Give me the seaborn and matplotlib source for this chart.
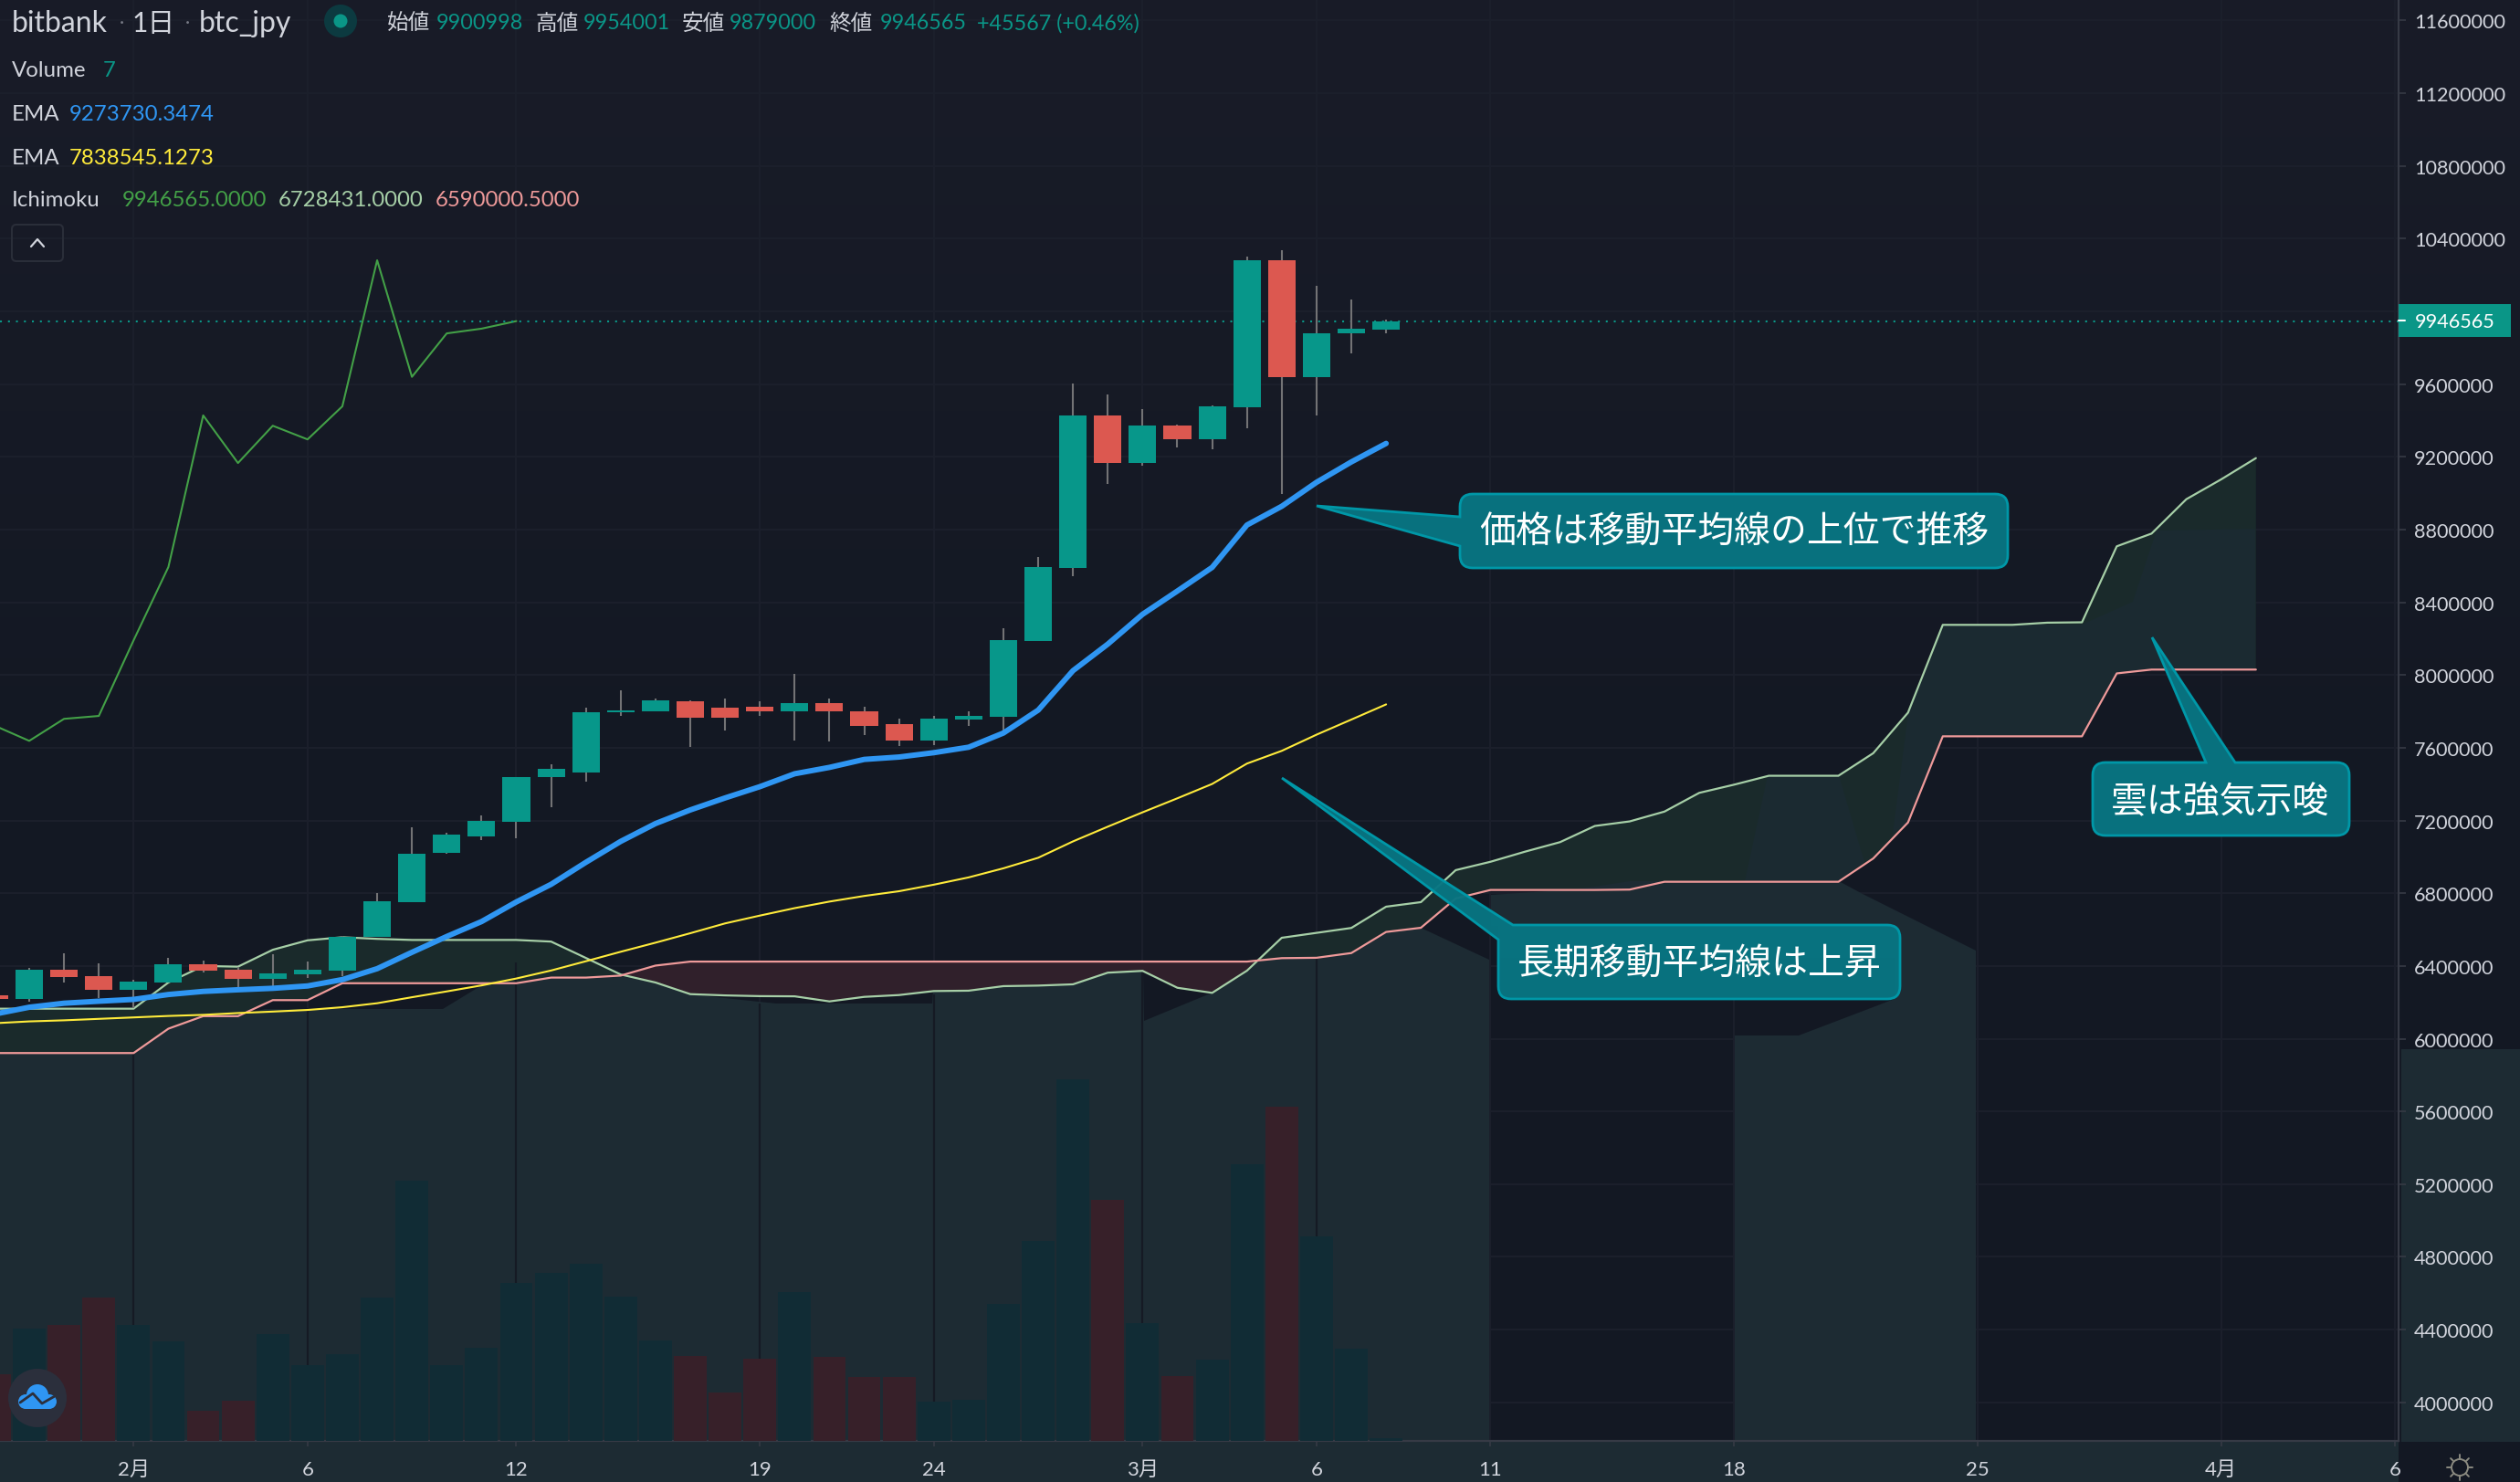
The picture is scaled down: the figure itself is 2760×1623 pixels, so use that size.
import numpy as np
import matplotlib
matplotlib.use('Agg')
import matplotlib.pyplot as plt
import seaborn as sns
from matplotlib.patches import Circle, FancyBboxPatch, PathPatch, Polygon, Rectangle
from matplotlib.path import Path
from matplotlib.transforms import Affine2D

W, H = 2760, 1624

# 日足 (2月1日 = 0)
candle_days = list(range(-4, 37))
opens = [6240000, 6219000, 6378000, 6343000, 6267000, 6307000, 6408000, 6378000, 6328000, 6352000, 6374000,
         6559000, 6749000, 7024000, 7112000, 7191000, 7439000, 7465000, 7793000, 7801000, 7854000, 7819000,
         7828000, 7801000, 7846000, 7801000, 7731000, 7638000, 7755000, 7770000, 8186000, 8588000, 9428000,
         9166000, 9371000, 9296000, 9472000, 10281000, 9640000, 9879000, 9900998]
highs = [6240000, 6387000, 6469000, 6414000, 6325000, 6443000, 6431000, 6396000, 6467000, 6422000, 6564000,
         6803000, 7165000, 7130000, 7227000, 7439000, 7510000, 7819000, 7916000, 7872000, 7863000, 7872000,
         7854000, 8005000, 7872000, 7828000, 7759000, 7775000, 7801000, 8257000, 8650000, 9605000, 9543000,
         9463000, 9377000, 9483000, 10303000, 10339000, 10141000, 10064000, 9954001]
lows = [6219000, 6201000, 6307000, 6223000, 6166000, 6307000, 6364000, 6283000, 6285000, 6334000, 6343000,
        6559000, 6749000, 7015000, 7094000, 7103000, 7271000, 7412000, 7775000, 7801000, 7607000, 7695000,
        7775000, 7642000, 7634000, 7669000, 7609000, 7616000, 7722000, 7689000, 8186000, 8544000, 9051000,
        9150000, 9251000, 9243000, 9357000, 8995000, 9428000, 9768000, 9879000]
closes = [6219000, 6378000, 6338000, 6267000, 6312000, 6408000, 6374000, 6328000, 6361000, 6378000, 6559000,
          6758000, 7015000, 7121000, 7200000, 7439000, 7483000, 7793000, 7806000, 7863000, 7766000, 7766000,
          7801000, 7846000, 7801000, 7722000, 7638000, 7759000, 7775000, 8191000, 8594000, 9428000, 9166000,
          9371000, 9296000, 9478000, 10281000, 9640000, 9879000, 9905000, 9946565]
volumes = [733, 1231, 1274, 1575, 1274, 1094, 329, 445, 1175, 832, 952, 1575, 2852, 832, 1016, 1734, 1842,
           1936, 1584, 1102, 926, 535, 896, 1627, 918, 700, 696, 430, 452, 1500, 2195, 3957, 2640, 1292, 713,
           890, 3031, 3656, 2245, 1014, 31]

ema_short = [6135000, 6173000, 6195000, 6206000, 6216000, 6243000, 6260000, 6269000, 6277000, 6290000, 6325000,
             6385000, 6475000, 6562000, 6644000, 6752000, 6849000, 6970000, 7085000, 7183000, 7258000, 7324000,
             7386000, 7457000, 7492000, 7536000, 7549000, 7573000, 7603000, 7681000, 7807000, 8024000, 8170000,
             8334000, 8462000, 8592000, 8825000, 8928000, 9060000, 9172000, 9273730]
ema_long = [6085000, 6095000, 6101000, 6109000, 6117000, 6125000, 6131000, 6141000, 6149000, 6158000, 6173000,
            6195000, 6228000, 6260000, 6293000, 6331000, 6375000, 6426000, 6478000, 6528000, 6580000, 6634000,
            6677000, 6718000, 6754000, 6785000, 6811000, 6847000, 6887000, 6937000, 6995000, 7085000, 7166000,
            7245000, 7322000, 7401000, 7513000, 7583000, 7672000, 7755000, 7838545]

# 一目均衡表 先行スパン
cloud_days = list(range(-4, 62))
span_a = [6165000, 6165000, 6165000, 6165000, 6165000, 6309000, 6400000, 6396000, 6489000, 6541000, 6558000,
          6549000, 6543000, 6543000, 6543000, 6543000, 6534000, 6444000, 6353000, 6309000, 6245000, 6238000,
          6234000, 6233000, 6205000, 6230000, 6240000, 6262000, 6264000, 6289000, 6292000, 6299000, 6363000,
          6373000, 6280000, 6252000, 6374000, 6555000, 6582000, 6609000, 6726000, 6751000, 6927000, 6973000,
          7029000, 7081000, 7170000, 7195000, 7249000, 7352000, 7397000, 7446000, 7446000, 7446000, 7570000,
          7793000, 8276000, 8276000, 8276000, 8288000, 8290000, 8708000, 8778000, 8967000, 9076000, 9193000]
span_b = [5921000, 5921000, 5921000, 5921000, 5921000, 6055000, 6124000, 6124000, 6212000, 6212000, 6305000,
          6305000, 6305000, 6305000, 6305000, 6305000, 6336000, 6336000, 6347000, 6402000, 6424000, 6424000,
          6424000, 6424000, 6424000, 6424000, 6424000, 6424000, 6424000, 6424000, 6424000, 6424000, 6424000,
          6424000, 6424000, 6424000, 6424000, 6443000, 6445000, 6471000, 6587000, 6610000, 6771000, 6818000,
          6818000, 6818000, 6818000, 6820000, 6863000, 6863000, 6863000, 6863000, 6863000, 6863000, 6991000,
          7189000, 7663000, 7663000, 7663000, 7663000, 7663000, 8009000, 8030000, 8030000, 8030000, 8030000]

price_ticks = list(range(4000000, 11600001, 400000))
date_ticks = [0, 5, 11, 18, 23, 29, 34, 39, 46, 53, 60, 65]
date_labels = ['2月', '6', '12', '19', '24', '3月', '6', '11', '18', '25', '4月', '6']
last_price = 9946565
lag = 25

BG = '#131823'
SHADE = '#1d2b33'
UP = '#07978a'
DOWN = '#dc5850'
AXIS = '#363a45'
TEXT = '#d1d4dc'
TEAL = '#0a9687'

sns.set_theme(style='dark', rc={'axes.axisbelow': False})
plt.rcParams['font.family'] = ['Lato', 'Noto Sans CJK JP', 'DejaVu Sans']

fig = plt.figure(figsize=(W / 100, H / 100), dpi=100, facecolor=BG)
px = Affine2D().scale(1, -1).translate(0, H)  # 画像ピクセル座標

# 背景は上がやや明るい
shade = np.clip(np.linspace(1, 0, H) * 1.8 - 0.8, 0, 1)[:, None, None]
top_c = np.array(matplotlib.colors.to_rgb('#191c28'))
bot_c = np.array(matplotlib.colors.to_rgb(BG))
fig.figimage(np.tile(bot_c + (top_c - bot_c) * shade, (1, W, 1)), zorder=-1)

ax = fig.add_axes([0, 1 - 1579 / H, 2627 / W, 1579 / H])
ax.patch.set_visible(False)
ax.set_axisbelow(False)

days = np.array(candle_days)
o, h, l, c = map(np.array, (opens, highs, lows, closes))
colors = np.where(c >= o, UP, DOWN)

# グリッド
ax.hlines(price_ticks, -4, 66, color='#1b1f2b', lw=1.6, zorder=0.5)
ax.vlines(date_ticks, 3700000, 11800000, color='#1b1f2b', lw=1.6, zorder=0.5)

# 雲
ax.fill_between(cloud_days, span_a, span_b, where=np.array(span_a) >= np.array(span_b), interpolate=True,
                color='#1a2a2b', lw=0, zorder=0.7)
ax.fill_between(cloud_days, span_a, span_b, where=np.array(span_a) < np.array(span_b), interpolate=True,
                color='#30202b', lw=0, zorder=0.7)

# 透かしの帯
shade_left = [(0, 1154), (146, 1154), (186, 1127), (222, 1114), (261, 1114), (290, 1106), (485, 1106), (531, 1078),
              (565, 1078), (604, 1072), (680, 1070), (718, 1077), (756, 1090), (850, 1100), (1021, 1100), (1022, 1086),
              (1063, 1086), (1098, 1081), (1175, 1079), (1213, 1066), (1252, 1064), (1253, 1119), (1328, 1088),
              (1367, 1064), (1377, 1054), (1403, 1050), (1443, 1050), (1480, 1045), (1519, 1022), (1556, 1017),
              (1631, 1052), (1631, 1579), (0, 1579)]
shade_mid = [(1633, 981), (1726, 975), (1785, 966), (2014, 966), (2040, 980), (2164, 1042), (2164, 1579), (1900, 1579),
             (1900, 1135), (1970, 1135), (2075, 1095), (2075, 1050), (1641, 1050), (1641, 1015), (1633, 1015)]
cloud_a = [(1936, 850), (2014, 850), (2042, 945), (2014, 966), (1911, 966)]
cloud_b = [(2073, 914), (2090, 781), (2127, 685), (2280, 685), (2336, 660), (2362, 582), (2470, 580), (2470, 734),
           (2356, 734), (2318, 738), (2280, 807), (2127, 807), (2090, 902)]
for pts in (shade_left, shade_mid):
    ax.add_patch(Polygon(pts, closed=True, fc=SHADE, ec='none', transform=px, clip_on=False, zorder=1))
for pts in (cloud_a, cloud_b):
    ax.add_patch(Polygon(pts, closed=True, fc='#1b2a31', ec='none', transform=px, clip_on=False, zorder=1))
ax.add_patch(Rectangle((0, 1580), 2627, 44, fc=SHADE, ec='none', transform=px, clip_on=False, zorder=1))
ax.add_patch(Rectangle((2630, 1150), 130, 430, fc=SHADE, ec='none', transform=px, clip_on=False, zorder=1))

# 帯の中の縦線
ax.vlines([0, 5, 11, 18, 23, 29, 34], 3787800, [5922000, 6168000, 6420000, 6193000, 6244000, 6364000, 6444000],
          color='#151a24', lw=1.6, zorder=1.2)

# 遅行・先行スパン, EMA
sns.lineplot(x=days[25:] - lag, y=c[25:], color='#43a047', linewidth=1.5, ax=ax, zorder=2, errorbar=None)
sns.lineplot(x=cloud_days, y=span_a, color='#a6cfa7', linewidth=1.6, ax=ax, zorder=2, errorbar=None)
sns.lineplot(x=cloud_days, y=span_b, color='#ef9a9a', linewidth=1.6, ax=ax, zorder=2, errorbar=None)
sns.lineplot(x=candle_days, y=ema_long, color='#ffeb3b', linewidth=1.5, ax=ax, zorder=3, errorbar=None)

# ローソク足
ax.vlines(days, l, h, color='#737375', lw=1.5, zorder=3)
ax.bar(days, c - o, bottom=o, width=0.79, color=colors, lw=0, zorder=3.2)
sns.lineplot(x=candle_days, y=ema_short, color='#2f96f3', linewidth=4.3, ax=ax, zorder=3.5, errorbar=None)

# 現在値ライン
ax.axhline(last_price, color=TEAL, lw=1.5, ls=(0, (1, 3.2)), zorder=2.8)

ax.set_xlim(-3.84, 65.1)
ax.set_ylim(3787800, 11717600)
ax.set_xlabel('')
ax.set_ylabel('')
ax.set_xticks(date_ticks, date_labels)
# 10000000 は現在値ラベルの下に隠れている
ax.set_yticks(price_ticks, ['' if p == 10000000 else str(p) for p in price_ticks])
for side in ('left', 'top'):
    ax.spines[side].set_visible(False)
for side in ('right', 'bottom'):
    ax.spines[side].set_visible(True)
    ax.spines[side].set_color(AXIS)
    ax.spines[side].set_linewidth(1.6)

# 出来高
vol_ax = ax.twinx()
sns.barplot(x=candle_days, y=volumes, hue=np.where(c >= o, 'up', 'down'), palette={'up': '#112c35', 'down': '#372029'},
            native_scale=True, dodge=False, legend=False, width=0.94, saturation=1, ax=vol_ax, lw=0)
vol_ax.set_xlim(-3.84, 65.1)
vol_ax.set_ylim(0, 15790)
vol_ax.set_axis_off()
ax.yaxis.tick_right()
ax.tick_params(axis='y', which='major', right=True, left=False, length=5.8, width=1.2, color=AXIS, pad=6.5,
               labelsize=15.6, labelcolor=TEXT)
ax.tick_params(axis='x', which='major', bottom=True, length=4.3, width=1.2, color=AXIS, pad=10.5,
               labelsize=16, labelcolor=TEXT)


def bubble(box, tip, a, b, text, text_xy, side):
    x0, y0, x1, y1 = box
    r = 14
    start = b if side == 'corner' else (x0 + r, y0)
    verts = [start]
    codes = [Path.MOVETO]
    def line(*pts):
        for p in pts:
            verts.append(p)
            codes.append(Path.LINETO)
    def arc(ctrl, end):
        verts.extend([ctrl, end])
        codes.extend([Path.CURVE3, Path.CURVE3])
    if side == 'top':
        line(a, tip, b)
    line((x1 - r, y0))
    arc((x1, y0), (x1, y0 + r))
    line((x1, y1 - r))
    arc((x1, y1), (x1 - r, y1))
    line((x0 + r, y1))
    arc((x0, y1), (x0, y1 - r))
    if side == 'left':
        line(b, tip, a, (x0, y0 + r))
        arc((x0, y0), (x0 + r, y0))
    else:
        if side == 'corner':
            line(a, tip, start)
        else:
            line((x0, y0 + r))
            arc((x0, y0), (x0 + r, y0))
    verts.append(start)
    codes.append(Path.CLOSEPOLY)
    ax.add_patch(PathPatch(Path(verts, codes), fc=(0.03, 0.46, 0.51, 0.97), ec='#0097a7', lw=2, transform=px,
                           clip_on=False, zorder=5))
    ax.text(text_xy[0], text_xy[1], text, color='white', fontsize=28.7, ha='center', va='center', transform=px,
            clip_on=False, zorder=6)


bubble((1599, 542, 2199, 623), (1442, 555), (1599, 567), (1599, 599), '価格は移動平均線の上位で推移', (1899, 583), 'left')
bubble((1641, 1014, 2081, 1095), (1404, 853), (1641, 1030), (1657, 1014), '長期移動平均線は上昇', (1861, 1055), 'corner')
bubble((2292, 836, 2573, 916), (2357, 699), (2416, 836), (2448, 836), '雲は強気示唆', (2432, 877), 'top')

# 現在値ラベル
ax.add_patch(Rectangle((2627, 334), 123, 36, fc=TEAL, ec='none', transform=px, clip_on=False, zorder=6))
ax.plot([2627, 2634], [352, 352], color='white', lw=1.5, transform=px, clip_on=False, zorder=7)
ax.text(2645, 353, str(last_price), color='white', fontsize=15.6, va='center', ha='left', transform=px,
        clip_on=False, zorder=7)

# ヘッダ
def label(x, y, s, color=TEXT, size=17.3):
    fig.text(x / W, 1 - y / H, s, color=color, fontsize=size, ha='left', va='center')


label(13, 26, 'bitbank', size=23)
label(145, 26, '1日', size=21.5)
label(218, 26, 'btc_jpy', size=23)
label(131, 24, '·', color='#787b86', size=14)
label(203, 24, '·', color='#787b86', size=14)
ax.add_patch(Circle((373, 24), 18, fc='#0c3a40', ec='none', transform=px, clip_on=False, zorder=6))
ax.add_patch(Circle((373, 24), 7.5, fc=TEAL, ec='none', transform=px, clip_on=False, zorder=7))
for x, s in [(424, '始値'), (587, '高値'), (747, '安値'), (908, '終値')]:
    label(x, 26, s, size=17)
for x, s in [(478, '9900998'), (639, '9954001'), (799, '9879000'), (964, '9946565'), (1070, '+45567 (+0.46%)')]:
    label(x, 26, s, color=TEAL, size=16.8)
label(13, 77, 'Volume')
label(113, 77, '7', color=TEAL)
label(13, 125, 'EMA')
label(76, 125, '9273730.3474', color='#2f96f3')
label(13, 173, 'EMA')
label(76, 173, '7838545.1273', color='#ffeb3b')
label(13, 220, 'Ichimoku')
label(134, 220, '9946565.0000', color='#43a047')
label(305, 220, '6728431.0000', color='#a6cfa7')
label(477, 220, '6590000.5000', color='#ef9a9a')

ax.add_patch(FancyBboxPatch((16, 250), 50, 34, boxstyle='round,pad=3,rounding_size=5', fc='none', ec='#2a2e39', lw=1.5,
                            transform=px, clip_on=False, zorder=6))
ax.plot([34, 41, 48], [271, 263, 271], color=TEXT, lw=1.6, transform=px, clip_on=False, zorder=6)

# 左下ロゴ (出来高より手前)
vol_ax.add_patch(Circle((41, 1532), 32, fc='#2b2f3c', ec='none', transform=px, clip_on=False, zorder=6))
for cx, cy, r in [(28, 1536, 8), (41, 1529, 12), (54, 1536, 8)]:
    vol_ax.add_patch(Circle((cx, cy), r, fc='#2f96f3', ec='none', transform=px, clip_on=False, zorder=7))
vol_ax.add_patch(Rectangle((28, 1534), 26, 10, fc='#2f96f3', ec='none', transform=px, clip_on=False, zorder=7))
vol_ax.plot([22, 36, 46, 60], [1537, 1527, 1538, 1530], color='#2b2f3c', lw=2, transform=px, clip_on=False, zorder=8)
vol_ax.set_xlim(-3.84, 65.1)
vol_ax.set_ylim(0, 15790)

# 右下の設定アイコン
ax.add_patch(Circle((2694, 1608), 9, fc='none', ec='#8a8a80', lw=1.4, transform=px, clip_on=False, zorder=6))
for t in np.arange(8) * np.pi / 4:
    ax.plot([2694 + 10 * np.cos(t), 2694 + 14 * np.cos(t)], [1608 + 10 * np.sin(t), 1608 + 14 * np.sin(t)],
            color='#8a8a80', lw=1.4, transform=px, clip_on=False, zorder=6)

fig.savefig('out.png', dpi=100, facecolor=BG)
